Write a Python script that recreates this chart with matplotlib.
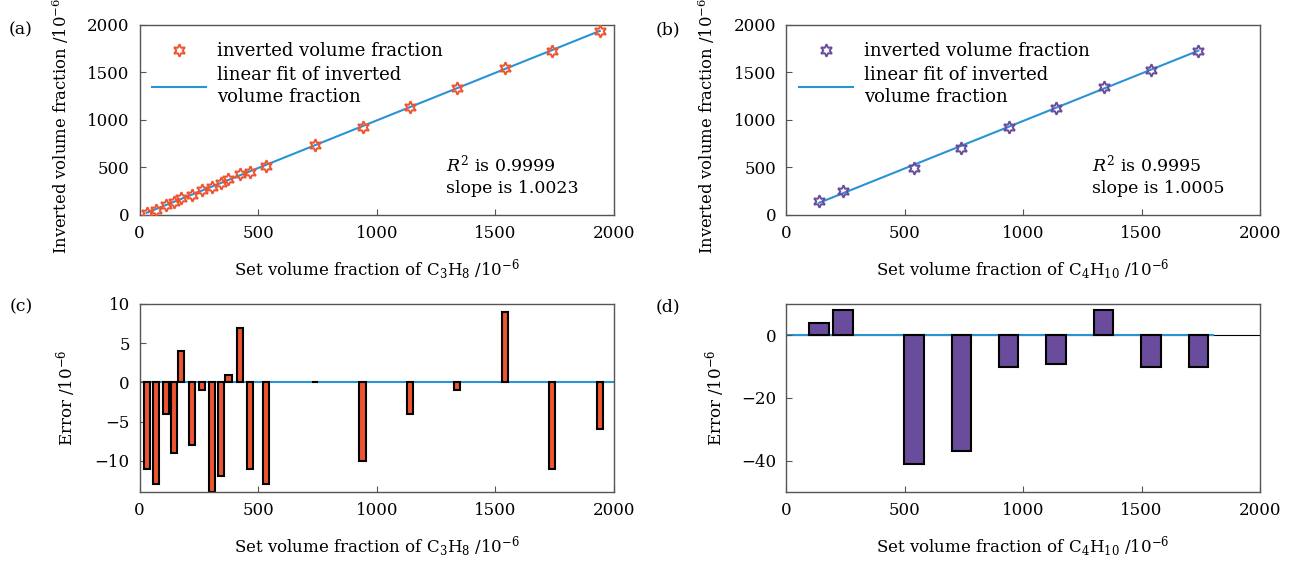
import numpy as np
import matplotlib
matplotlib.use("Agg")
import matplotlib.pyplot as plt

plt.rcParams["font.family"] = ["DejaVu Serif"]
plt.rcParams["mathtext.fontset"] = "dejavuserif"
plt.rcParams["font.size"] = 11

# C3H8: set / inverted volume fraction (10^-6) and error
c3h8_set = [30, 68, 110, 146, 174, 223, 265, 305, 345, 375, 424, 465, 532,
            740, 940, 1140, 1340, 1540, 1740, 1940]
c3h8_inv = [19, 55, 106, 137, 178, 215, 264, 291, 333, 376, 431, 454, 519,
            740, 930, 1136, 1339, 1549, 1729, 1934]
c3h8_err = [-11, -13, -4, -9, 4, -8, -1, -14, -12, 1, 7, -11, -13,
            0, -10, -4, -1, 9, -11, -6]

# C4H10
c4h10_set = [140, 240, 540, 740, 940, 1140, 1340, 1540, 1740]
c4h10_inv = [144, 248, 499, 703, 930, 1131, 1348, 1530, 1730]
c4h10_err = [4, 8, -41, -37, -10, -9, 8, -10, -10]

orange = "#EE5430"
purple = "#6A4C9C"
blue = "#2A93D5"
frame = "#555555"

fig = plt.figure(figsize=(12.94, 5.65), dpi=100)
W, H = 1294, 565


def box(l, t, r, b):
    return [l / W, 1 - b / H, (r - l) / W, (b - t) / H]


ax_a = fig.add_axes(box(139.5, 25, 614, 215))
ax_b = fig.add_axes(box(786, 25, 1260, 215))
ax_c = fig.add_axes(box(139.5, 304, 614, 492))
ax_d = fig.add_axes(box(786, 304, 1260, 492))

for ax in (ax_a, ax_b, ax_c, ax_d):
    ax.tick_params(direction="in", length=4, width=0.8, pad=7, labelsize=12,
                   color=frame)
    for s in ax.spines.values():
        s.set_color(frame)
        s.set_linewidth(1.0)
    ax.set_xlim(0, 2000)
    ax.set_xticks([0, 500, 1000, 1500, 2000])


def fit_panel(ax, xs, ys, color, r2, slope, gas):
    xs = np.array(xs, float)
    ys = np.array(ys, float)
    k, b = np.polyfit(xs, ys, 1)
    xx = np.array([xs.min(), xs.max()])
    ax.plot(xs, ys, linestyle="none", marker=(6, 1, 0), markersize=9,
            markerfacecolor="none", markeredgecolor=color, markeredgewidth=1.4,
            label="inverted volume fraction", zorder=3)
    ax.plot(xx, k * xx + b, color=blue, lw=1.5,
            label="linear fit of inverted\nvolume fraction", zorder=2)
    ax.set_ylim(0, 2000)
    ax.set_yticks([0, 500, 1000, 1500, 2000])
    leg = ax.legend(loc="upper left", frameon=False, fontsize=13,
                    handlelength=3.0, handletextpad=0.6, labelspacing=0.3,
                    borderaxespad=0.3, bbox_to_anchor=(0.0, 0.975))
    for t in leg.get_texts():
        t.set_linespacing(1.3)
    ax.text(0.645, 0.21, "$R^2$ is " + r2 + "\nslope is " + slope,
            transform=ax.transAxes, fontsize=12.5, va="center", ha="left",
            linespacing=1.35)
    ax.set_ylabel(r"Inverted volume fraction /10$^{-6}$", fontsize=11.8,
                  labelpad=12)
    ax.yaxis.label.set_y(0.47)
    ax.set_xlabel("Set volume fraction of " + gas + r" /10$^{-6}$", fontsize=12,
                  labelpad=11)


fit_panel(ax_a, c3h8_set, c3h8_inv, orange, "0.9999", "1.0023", r"C$_3$H$_8$")
fit_panel(ax_b, c4h10_set, c4h10_inv, purple, "0.9995", "1.0005", r"C$_4$H$_{10}$")

# error bars for C3H8
ax_c.axhline(0, color=blue, lw=1.5, zorder=1)
ax_c.bar(c3h8_set, c3h8_err, width=26, color=orange, edgecolor="black",
         linewidth=1.5, zorder=2)
ax_c.set_ylim(-14, 10)
ax_c.set_yticks([-10, -5, 0, 5, 10])
ax_c.set_ylabel(r"Error /10$^{-6}$", fontsize=12, labelpad=12)
ax_c.set_xlabel(r"Set volume fraction of C$_3$H$_8$ /10$^{-6}$", fontsize=12,
                labelpad=11)

# error bars for C4H10
ax_d.axhline(0, color="black", lw=0.8, zorder=1)
ax_d.plot([0, 1800], [0, 0], color=blue, lw=1.5, zorder=1.5)
ax_d.bar(c4h10_set, c4h10_err, width=82, color=purple, edgecolor="black",
         linewidth=1.5, zorder=2)
ax_d.set_ylim(-50, 10)
ax_d.set_yticks([-40, -20, 0])
ax_d.set_ylabel(r"Error /10$^{-6}$", fontsize=12, labelpad=10)
ax_d.set_xlabel(r"Set volume fraction of C$_4$H$_{10}$ /10$^{-6}$", fontsize=12,
                labelpad=11)

for lab, x, y in (("(a)", 21, 30), ("(b)", 668, 30), ("(c)", 21, 307), ("(d)", 668, 307)):
    fig.text(x / W, 1 - y / H, lab, fontsize=12.5, ha="center", va="center")

fig.savefig("out.png", dpi=100)
